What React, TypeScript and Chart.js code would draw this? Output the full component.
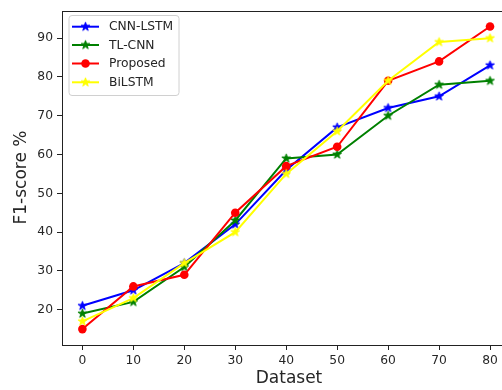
import React, { useEffect, useRef } from 'react';
import { Chart, registerables } from 'chart.js';
Chart.register(...registerables);

const datasetSizes = [0, 10, 20, 30, 40, 50, 60, 70, 80];
const cnnLstm = [21, 25, 32, 42, 56, 67, 72, 75, 83];
const tlCnn = [19, 22, 31, 43, 59, 60, 70, 78, 79];
const proposed = [15, 26, 29, 45, 57, 62, 79, 84, 93];
const biLstm = [17, 23, 32, 40, 55, 66, 79, 89, 90];
const xTicks = [0, 10, 20, 30, 40, 50, 60, 70, 80];
const yTicks = [20, 30, 40, 50, 60, 70, 80, 90];
const seriesNames = ['CNN-LSTM', 'TL-CNN', 'Proposed', 'BiLSTM'];
const seriesColors = ['#0000ff', '#008000', '#ff0000', '#ffff00'];

const FONT = "'DejaVu Sans', sans-serif";

function makeStar(color: string, r: number): HTMLCanvasElement {
  const c = document.createElement('canvas');
  const s = Math.ceil(r * 2 + 3);
  c.width = s;
  c.height = s;
  const ctx = c.getContext('2d')!;
  const cx = s / 2;
  const cy = s / 2;
  const ri = r * 0.382;
  ctx.beginPath();
  for (let i = 0; i < 10; i++) {
    const rad = i % 2 === 0 ? r : ri;
    const a = -Math.PI / 2 + (i * Math.PI) / 5;
    const px = cx + rad * Math.cos(a);
    const py = cy + rad * Math.sin(a);
    if (i === 0) ctx.moveTo(px, py);
    else ctx.lineTo(px, py);
  }
  ctx.closePath();
  ctx.fillStyle = color;
  ctx.fill();
  ctx.strokeStyle = color;
  ctx.lineWidth = 1;
  ctx.stroke();
  return c;
}

export default function App() {
  const ref = useRef<HTMLCanvasElement>(null);
  useEffect(() => {
    const canvas = ref.current!;
    const stars = seriesColors.map((c) => makeStar(c, 4.6));
    const values = [cnnLstm, tlCnn, proposed, biLstm];
    const pointStyles: any[] = [stars[0], stars[1], 'circle', stars[3]];

    const overlay = {
      id: 'overlay',
      afterDatasetsDraw(chart: any) {
        const { ctx, chartArea } = chart;
        ctx.save();
        // frame
        ctx.strokeStyle = '#222';
        ctx.lineWidth = 1;
        ctx.strokeRect(
          Math.round(chartArea.left) + 0.5,
          Math.round(chartArea.top) + 0.5,
          Math.round(chartArea.right - chartArea.left),
          Math.round(chartArea.bottom - chartArea.top)
        );
        // legend
        const bx = 69, by = 15.5, bw = 110, bh = 80, rr = 3;
        ctx.beginPath();
        ctx.moveTo(bx + rr, by);
        ctx.arcTo(bx + bw, by, bx + bw, by + bh, rr);
        ctx.arcTo(bx + bw, by + bh, bx, by + bh, rr);
        ctx.arcTo(bx, by + bh, bx, by, rr);
        ctx.arcTo(bx, by, bx + bw, by, rr);
        ctx.closePath();
        ctx.fillStyle = 'rgba(255,255,255,0.8)';
        ctx.fill();
        ctx.strokeStyle = '#d0d0d0';
        ctx.lineWidth = 1;
        ctx.stroke();
        const rows = [26.7, 45, 63.5, 82.3];
        ctx.font = `12.3px ${FONT}`;
        ctx.textBaseline = 'middle';
        ctx.textAlign = 'left';
        rows.forEach((y, i) => {
          ctx.strokeStyle = seriesColors[i];
          ctx.lineWidth = 2;
          ctx.beginPath();
          ctx.moveTo(72, y);
          ctx.lineTo(99, y);
          ctx.stroke();
          if (i === 2) {
            ctx.fillStyle = seriesColors[i];
            ctx.beginPath();
            ctx.arc(85.5, y, 4.3, 0, Math.PI * 2);
            ctx.fill();
          } else {
            const st = stars[i];
            ctx.drawImage(st, 85.5 - st.width / 2, y - st.height / 2);
          }
          ctx.fillStyle = '#262626';
          ctx.fillText(seriesNames[i], 109, y + 0.5);
        });
        // axis titles
        ctx.fillStyle = '#262626';
        ctx.font = `17px ${FONT}`;
        ctx.textAlign = 'center';
        ctx.textBaseline = 'middle';
        ctx.fillText('Dataset', 289, 379);
        ctx.save();
        ctx.translate(22, 177.5);
        ctx.rotate(-Math.PI / 2);
        ctx.fillText('F1-score %', 0, 0);
        ctx.restore();
        ctx.restore();
      },
    };

    const chart = new Chart(canvas, {
      type: 'line',
      data: {
        datasets: seriesNames.map((name, i) => ({
          label: name,
          data: datasetSizes.map((x, j) => ({ x, y: values[i][j] })),
          borderColor: seriesColors[i],
          backgroundColor: seriesColors[i],
          borderWidth: 2,
          pointStyle: pointStyles[i],
          pointRadius: i === 2 ? 4.3 : 4.6,
          pointBorderWidth: 0,
          fill: false,
          tension: 0,
          order: 4 - i,
        })),
      },
      options: {
        responsive: false,
        animation: false,
        devicePixelRatio: 1,
        layout: { padding: { top: 9, right: 4, left: 0, bottom: 0 } },
        plugins: { legend: { display: false }, tooltip: { enabled: false } },
        scales: {
          x: {
            type: 'linear',
            min: -4,
            max: 84,
            afterBuildTicks: (s: any) => {
              s.ticks = xTicks.map((v) => ({ value: v }));
            },
            afterFit: (s: any) => {
              s.height = 45;
            },
            grid: { drawOnChartArea: false, drawTicks: true, tickLength: 5, color: '#222' },
            border: { display: false },
            ticks: { font: { family: FONT, size: 12.3 }, color: '#262626', padding: 3, maxRotation: 0 },
          },
          y: {
            type: 'linear',
            min: 10.9,
            max: 96.9,
            afterBuildTicks: (s: any) => {
              s.ticks = yTicks.map((v) => ({ value: v }));
            },
            afterFit: (s: any) => {
              s.width = 62;
            },
            grid: { drawOnChartArea: false, drawTicks: true, tickLength: 5, color: '#222' },
            border: { display: false },
            ticks: { font: { family: FONT, size: 12.3 }, color: '#262626', padding: 4 },
          },
        },
      },
      plugins: [overlay],
    });
    return () => chart.destroy();
  }, []);

  return (
    <div style={{ position: 'absolute', left: 0, top: 0, width: 502, height: 390, overflow: 'hidden', background: '#fff' }}>
      <canvas ref={ref} width={515} height={390} style={{ width: 515, height: 390, display: 'block' }} />
    </div>
  );
}
